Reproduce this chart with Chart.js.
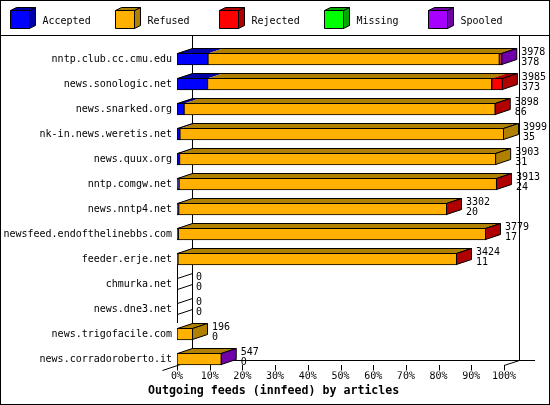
<!DOCTYPE html>
<html><head><meta charset="utf-8">
<script src="https://cdn.jsdelivr.net/npm/chart.js@4.4.1/dist/chart.umd.min.js"></script>
<style>html,body{margin:0;padding:0;background:#fff}#wrap{width:550px;height:405px;position:relative}</style>
</head><body><div id="wrap"><canvas id="c" width="550" height="405"></canvas></div>
<script>
const feeds = ['nntp.club.cc.cmu.edu','news.sonologic.net','news.snarked.org','nk-in.news.weretis.net','news.quux.org','nntp.comgw.net','news.nntp4.net','newsfeed.endofthelinebbs.com','feeder.erje.net','chmurka.net','news.dne3.net','news.trigofacile.com','news.corradoroberto.it'];
const offered  = [3978,3985,3898,3999,3903,3913,3302,3779,3424,0,0,196,547];
const accepted = [378,373,86,35,31,24,20,17,11,0,0,0,0];
const refused  = [3564,3476,3807,3964,3872,3886,3279,3759,3411,0,0,196,544];
const rejected = [20,136,5,0,0,3,3,3,2,0,0,0,0];
const missing  = [0,0,0,0,0,0,0,0,0,0,0,0,0];
const spooled  = [16,0,0,0,0,0,0,0,0,0,0,0,3];
const seriesNames = ['Accepted','Refused','Rejected','Missing','Spooled'];
const frontColors = ['#0000ff','#ffb000','#ff0000','#00ff00','#a800ff'];
const sideColors  = ['#0000a8','#b08000','#b00000','#00a800','#7000a8'];
const percentTicks = [0,10,20,30,40,50,60,70,80,90,100];
const chartTitle = 'Outgoing feeds (innfeed) by articles';

const maxTotal = Math.max(...offered);
const FONT = "'DejaVu Sans Mono', 'Liberation Mono', monospace";
const DX = 15, DY = 5;
const seriesData = [accepted, refused, rejected, missing, spooled];

function poly(ctx, pts, fill, stroke) {
  ctx.beginPath();
  ctx.moveTo(pts[0][0], pts[0][1]);
  for (let i = 1; i < pts.length; i++) ctx.lineTo(pts[i][0], pts[i][1]);
  ctx.closePath();
  if (fill) { ctx.fillStyle = fill; ctx.fill(); }
  if (stroke) { ctx.strokeStyle = stroke; ctx.lineWidth = 1; ctx.stroke(); }
}
function seg(ctx, x1, y1, x2, y2) {
  ctx.beginPath(); ctx.moveTo(x1, y1); ctx.lineTo(x2, y2); ctx.strokeStyle = '#000'; ctx.lineWidth = 1; ctx.stroke();
}

const chart3d = {
  id: 'chart3d',
  beforeDraw(chart) {
    const ctx = chart.ctx, W = chart.width, H = chart.height;
    ctx.save();
    ctx.fillStyle = '#fff'; ctx.fillRect(0, 0, W, H);
    ctx.strokeStyle = '#000'; ctx.lineWidth = 1;
    ctx.strokeRect(0.5, 0.5, W - 1, H - 1);
    seg(ctx, 0, 35.5, W, 35.5);
    // legend
    ctx.font = '10px ' + FONT; ctx.textAlign = 'left'; ctx.textBaseline = 'alphabetic';
    chart.data.datasets.forEach((ds, k) => {
      const bx = Math.round(10 + k * 104.5) + 0.5, by = 10.5, w = 19, h = 18, dx = 6, dy = 3;
      poly(ctx, [[bx + w, by], [bx + w + dx, by - dy], [bx + w + dx, by + h - dy], [bx + w, by + h]], ds.sideColor, '#000');
      poly(ctx, [[bx, by], [bx + dx, by - dy], [bx + w + dx, by - dy], [bx + w, by]], ds.sideColor, '#000');
      poly(ctx, [[bx, by], [bx + w, by], [bx + w, by + h], [bx, by + h]], ds.backgroundColor, '#000');
      ctx.fillStyle = '#000';
      ctx.fillText(ds.label, bx + 32, 24);
    });
    // back walls and floor
    const xs = chart.scales.x, ys = chart.scales.y;
    const x0 = xs.getPixelForValue(0), x1 = xs.getPixelForValue(maxTotal);
    const lastEl = chart.getDatasetMeta(0).data[feeds.length - 1];
    const F = lastEl.y + lastEl.height / 2;
    const B = F - DY;
    seg(ctx, x0 + DX + 0.5, 35, x0 + DX + 0.5, B + 0.5);
    seg(ctx, x1 + DX + 0.5, 35, x1 + DX + 0.5, B + 0.5);
    seg(ctx, x0 + DX, B + 0.5, x1 + DX + 16, B + 0.5);
    seg(ctx, x0 - DX + 0.5, F + DY + 0.5, x0 + DX + 0.5, B + 0.5);
    seg(ctx, x1, F + 0.5, x1 + DX + 0.5, B + 0.5);
    xs.ticks.forEach(t => {
      const px = Math.round(xs.getPixelForValue(t.value)) + 0.5;
      seg(ctx, px, F, px, F + DY + 0.5);
    });
    // title
    ctx.font = 'bold 11.6px ' + FONT; ctx.fillStyle = '#000'; ctx.textAlign = 'left';
    ctx.fillText(chartTitle, 148, 394);
    ctx.restore();
  },
  afterDatasetsDraw(chart) {
    const ctx = chart.ctx;
    ctx.save();
    const xs = chart.scales.x;
    const x0 = xs.getPixelForValue(0);
    const metas = chart.data.datasets.map((d, k) => chart.getDatasetMeta(k));
    const n = feeds.length;
    const rowY = i => metas[0].data[i].y;
    for (let i = 0; i < n; i++) {
      const el0 = metas[0].data[i];
      const yc = el0.y, hh = el0.height / 2;
      const yT = yc - hh + 0.5, yB = yc + hh - 0.5;
      const segs = [];
      metas.forEach((m, k) => {
        const v = chart.data.datasets[k].data[i];
        if (v > 0) { const el = m.data[i]; segs.push({ l: Math.min(el.x, el.base), r: Math.max(el.x, el.base), k }); }
      });
      if (!segs.length) {
        // zero bar: outline of an empty box at the axis
        const xa = Math.round(x0) + 0.5;
        const yPrev = i > 0 ? rowY(i - 1) + hh : yc - 12;
        const yNext = i < n - 1 ? rowY(i + 1) - hh - DY : yc + 12;
        seg(ctx, xa, yPrev, xa, yNext);
        seg(ctx, xa, yT, xa + DX, yT - DY);
        seg(ctx, xa, yB, xa + DX, yB - DY);
      } else {
        segs.forEach(s => {
          poly(ctx, [[s.l, yT], [s.l + DX, yT - DY], [s.r + DX, yT - DY], [s.r, yT]], chart.data.datasets[s.k].sideColor, null);
        });
        const xl = Math.round(x0) + 0.5;
        const xr = segs[segs.length - 1].r - 0.5;
        poly(ctx, [[xl, yT], [xl + DX, yT - DY], [xr + DX, yT - DY], [xr, yT]], null, '#000');
        poly(ctx, [[xr, yT], [xr + DX, yT - DY], [xr + DX, yB - DY], [xr, yB]], chart.data.datasets[segs[segs.length - 1].k].sideColor, '#000');
      }
      const xEnd = xs.getPixelForValue(offered[i]);
      ctx.font = '10px ' + FONT; ctx.fillStyle = '#000'; ctx.textAlign = 'left'; ctx.textBaseline = 'alphabetic';
      ctx.fillText(String(offered[i]), xEnd + DX + 4, yc - hh + 1.5);
      ctx.fillText(String(accepted[i]), xEnd + DX + 4, yc - hh + 11.5);
    }
    ctx.restore();
  }
};

Chart.defaults.color = '#000';
new Chart(document.getElementById('c'), {
  type: 'bar',
  data: {
    labels: feeds,
    datasets: seriesNames.map((name, k) => ({
      label: name,
      data: seriesData[k],
      backgroundColor: frontColors[k],
      sideColor: sideColors[k],
      borderColor: '#000',
      borderWidth: 1,
      borderSkipped: false,
      barThickness: 12
    }))
  },
  options: {
    indexAxis: 'y',
    responsive: false,
    devicePixelRatio: 1,
    animation: false,
    layout: { padding: { left: 0, right: 46, top: 46.5, bottom: 0 } },
    plugins: { legend: { display: false }, tooltip: { enabled: false }, title: { display: false } },
    scales: {
      x: {
        stacked: true, min: 0, max: maxTotal,
        grid: { display: false, drawTicks: false }, border: { display: false },
        afterBuildTicks: s => { s.ticks = percentTicks.map(p => ({ value: p * maxTotal / 100 })); },
        ticks: {
          callback: v => Math.round(v / maxTotal * 100) + '%',
          font: { family: FONT, size: 10, lineHeight: 1 }, color: '#000', padding: 0, maxRotation: 0, autoSkip: false
        },
        afterFit: s => { s.height = 33.5; }
      },
      y: {
        stacked: true,
        grid: { display: false, drawTicks: false }, border: { display: false },
        ticks: { font: { family: FONT, size: 10 }, color: '#000', padding: 5, autoSkip: false },
        afterFit: s => { s.width = 177; }
      }
    }
  },
  plugins: [chart3d]
});
</script></body></html>
